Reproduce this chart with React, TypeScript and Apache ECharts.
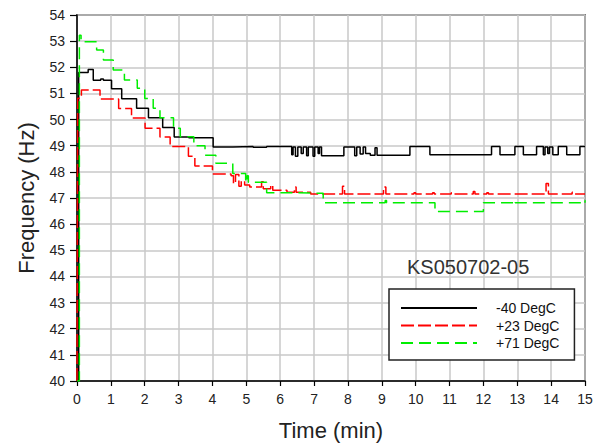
import React, { useEffect, useRef } from "react";
import * as echarts from "echarts";

// Sensor identifier shown inside the plot area
const SENSOR_ID = "KS050702-05";
const SERIES_NAMES = ["-40 DegC", "+23 DegC", "+71 DegC"];

// -40 DegC run: start time of each step (min) and the frequency held (Hz)
const coldTime = [
  0.0, 0.05, 0.33, 0.48, 0.7, 0.78, 1.02, 1.32, 1.76, 2.11, 2.53, 2.87, 3.3,
  4.02, 4.6, 5.2, 5.6, 6.34, 6.38, 6.45, 6.52, 6.62, 6.68, 6.78, 6.83, 6.97,
  7.02, 7.12, 7.16, 7.22, 7.88, 8.2, 8.26, 8.36, 8.45, 8.52, 8.66, 8.8, 8.86,
  9.83, 10.42, 12.24, 12.49, 12.93, 13.18, 13.57, 13.77, 13.82, 13.9, 13.95,
  14.05, 14.21, 14.46, 14.85, 15.0,
];
const coldFreq = [
  40.0, 51.8, 51.92, 51.5, 51.55, 51.5, 51.18, 50.8, 50.43, 50.07, 49.7, 49.33,
  49.3, 48.95, 48.97, 48.94, 48.97, 48.65, 48.95, 48.6, 48.95, 48.7, 48.95,
  48.62, 48.95, 48.6, 48.95, 48.7, 48.95, 48.62, 48.95, 48.62, 48.95, 48.68,
  48.95, 48.7, 48.64, 48.92, 48.64, 48.97, 48.65, 48.97, 48.65, 48.97, 48.65,
  48.97, 48.65, 48.95, 48.7, 48.95, 48.65, 48.97, 48.65, 48.97, 48.97,
];

// +23 DegC run
const roomTime = [
  0.0, 0.02, 0.13, 0.68, 1.23, 1.61, 2.01, 2.45, 2.75, 3.29, 3.48, 4.0, 4.55,
  4.62, 4.68, 4.78, 4.85, 4.95, 5.1, 5.45, 5.5, 5.72, 5.78, 6.2, 6.42, 6.47,
  6.9, 7.84, 7.9, 9.05, 9.12, 9.95, 10.0, 10.5, 10.55, 11.05, 11.1, 11.7,
  11.75, 12.1, 12.15, 13.85, 13.92, 14.62, 14.67, 15.0,
];
const roomFreq = [
  40.0, 50.82, 51.13, 50.79, 50.42, 50.06, 49.67, 49.33, 48.97, 48.6, 48.22,
  47.92, 47.85, 47.55, 47.9, 47.45, 47.65, 47.5, 47.42, 47.62, 47.35, 47.5,
  47.3, 47.22, 47.42, 47.22, 47.15, 47.45, 47.15, 47.42, 47.15, 47.2, 47.15,
  47.2, 47.15, 47.2, 47.15, 47.25, 47.15, 47.2, 47.15, 47.55, 47.15, 47.22,
  47.15, 47.15,
];

// +71 DegC run
const hotTime = [
  0.0, 0.07, 0.12, 0.58, 0.78, 1.07, 1.4, 1.78, 2.0, 2.25, 2.45, 2.85, 3.05,
  3.45, 3.78, 4.1, 4.6, 4.98, 5.02, 5.06, 5.6, 6.5, 7.27, 9.1, 9.14, 10.57,
  12.0, 12.9, 12.94, 14.9, 15.0,
];
const hotFreq = [
  40.0, 53.23, 52.98, 52.66, 52.28, 51.9, 51.51, 51.2, 50.81, 50.43, 50.07,
  49.67, 49.34, 49.0, 48.64, 48.33, 47.94, 47.6, 47.85, 47.6, 47.2, 47.18,
  46.82, 46.9, 46.82, 46.48, 46.82, 46.9, 46.82, 46.9, 46.82,
];

const LINE_COLORS = ["#000000", "#ff0000", "#00ee00"];
const LINE_DASH: (number[] | "solid")[] = ["solid", [13, 4], [12, 6]];

const FONT = "Liberation Sans";

const pairs = (t: number[], f: number[]) => t.map((x, i) => [x, f[i]]);

export default function App() {
  const ref = useRef<HTMLDivElement>(null);

  useEffect(() => {
    if (!ref.current) return;
    const chart = echarts.init(ref.current, undefined, { renderer: "svg" });

    const runs = [
      pairs(coldTime, coldFreq),
      pairs(roomTime, roomFreq),
      pairs(hotTime, hotFreq),
    ];

    chart.setOption({
      animation: false,
      backgroundColor: "#ffffff",
      grid: {
        left: 77,
        right: 20,
        top: 15,
        bottom: 66,
        show: true,
        borderColor: "#1a1a1a",
        borderWidth: 1.5,
        backgroundColor: "transparent",
      },
      xAxis: {
        type: "value",
        min: 0,
        max: 15,
        interval: 1,
        name: "Time (min)",
        nameLocation: "middle",
        nameGap: 38,
        nameTextStyle: { fontFamily: FONT, fontSize: 22, color: "#222" },
        axisLine: { show: true, lineStyle: { color: "#000", width: 1.5 } },
        axisTick: { show: true, length: 5, lineStyle: { color: "#000", width: 1.2 } },
        axisLabel: { margin: 11, fontFamily: FONT, fontSize: 14, color: "#222" },
        splitLine: { show: true, lineStyle: { color: "#c8c8c8", width: 1.5 } },
      },
      yAxis: {
        type: "value",
        min: 40,
        max: 54,
        interval: 1,
        name: "Frequency (Hz)",
        nameLocation: "middle",
        nameGap: 40,
        nameTextStyle: { fontFamily: FONT, fontSize: 22, color: "#222" },
        axisLine: { show: true, lineStyle: { color: "#000", width: 1.5 } },
        axisTick: { show: true, length: 7, lineStyle: { color: "#000", width: 1.2 } },
        axisLabel: { margin: 12, fontFamily: FONT, fontSize: 14, color: "#222" },
        splitLine: { show: true, lineStyle: { color: "#c8c8c8", width: 1.5 } },
      },
      legend: {
        orient: "vertical",
        left: 389,
        top: 289,
        padding: [12, 15, 10, 11],
        itemWidth: 76,
        itemHeight: 14,
        itemGap: 3.5,
        borderColor: "#222",
        borderWidth: 1.5,
        backgroundColor: "#ffffff",
        itemStyle: { opacity: 0 },
        textStyle: {
          fontFamily: FONT,
          fontSize: 14,
          color: "#111",
          lineHeight: 14,
          padding: [0, 0, 0, 14],
        },
        data: SERIES_NAMES,
      },
      graphic: [
        {
          type: "text",
          left: 407,
          top: 257,
          z: 10,
          style: {
            text: SENSOR_ID,
            fontFamily: FONT,
            fontSize: 20,
            fill: "#333",
          },
        },
      ],
      series: runs.map((data, i) => ({
        name: SERIES_NAMES[i],
        type: "line",
        step: "end",
        symbol: "none",
        data,
        lineStyle: {
          color: LINE_COLORS[i],
          width: 1.5,
          type: LINE_DASH[i],
        },
        itemStyle: { color: LINE_COLORS[i] },
        z: 2 + i,
      })),
    });

    return () => chart.dispose();
  }, []);

  return (
    <div
      ref={ref}
      style={{ position: "fixed", left: 0, top: 0, width: 605, height: 447, background: "#fff" }}
    />
  );
}
